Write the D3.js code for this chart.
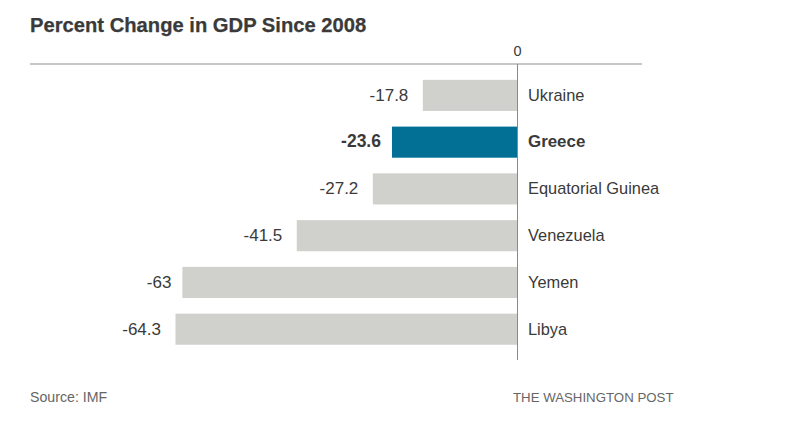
<!DOCTYPE html>
<html>
<head>
<meta charset="utf-8">
<script src="https://d3js.org/d3.v7.min.js"></script>
<style>
    body { margin: 0; background: #fff; }
    text { font-family: 'Liberation Sans', sans-serif; fill: #3a3a3a; }
</style>
</head>
<body>
<svg width="801" height="430"></svg>
<script>
    const countries = ["Ukraine", "Greece", "Equatorial Guinea", "Venezuela", "Yemen", "Libya"];
    const values = [-17.8, -23.6, -27.2, -41.5, -63, -64.3];
    const highlighted = ["Greece"];
    const xTicks = [0];

    const svg = d3.select("svg");

    // zero sits at 517.5, Libya's bar starts at 175.5
    const x = d3.scaleLinear().domain([-64.3, 0]).range([175.5, 517.5]);
    const y = d3.scaleBand().domain(countries).range([71.9, 352.7]).paddingInner(0.335).paddingOuter(0.17);

    const valueOf = d => values[countries.indexOf(d)];
    const isBold = d => highlighted.includes(d);

    // title
    svg.append("text")
        .attr("x", 30).attr("y", 32)
        .attr("font-size", 20.2).attr("font-weight", "bold")
        .style("stroke", "#3a3a3a").style("stroke-width", 0.25)
        .text("Percent Change in GDP Since 2008");

    // bars
    svg.selectAll(".bar")
        .data(countries)
        .join("rect")
        .attr("class", "bar")
        .attr("x", d => x(valueOf(d)))
        .attr("y", d => y(d))
        .attr("width", d => x(0) - x(valueOf(d)))
        .attr("height", y.bandwidth())
        .attr("fill", d => isBold(d) ? "#026f95" : "#d0d0cc");

    // top rule and zero line
    svg.append("line")
        .attr("x1", 30).attr("x2", 642).attr("y1", 64).attr("y2", 64)
        .attr("stroke", "#b5b5b5").attr("stroke-width", 1.5);
    svg.append("line")
        .attr("x1", x(0)).attr("x2", x(0)).attr("y1", 64).attr("y2", 360)
        .attr("stroke", "#8a8a8a").attr("stroke-width", 1);

    svg.selectAll(".tick-label")
        .data(xTicks)
        .join("text")
        .attr("class", "tick-label")
        .attr("x", d => x(d)).attr("y", 56)
        .attr("text-anchor", "middle").attr("font-size", 14.5)
        .text(d => d);

    // value labels: plain decimals sit further off the bar than the others
    svg.selectAll(".value")
        .data(countries)
        .join("text")
        .attr("class", "value")
        .attr("x", d => x(valueOf(d)) - (isBold(d) || Number.isInteger(valueOf(d)) ? 11 : 14.5))
        .attr("y", d => y(d) + y.bandwidth() / 2 + 5.3)
        .attr("text-anchor", "end")
        .attr("font-size", d => isBold(d) ? 17.5 : 17)
        .attr("font-weight", d => isBold(d) ? "bold" : "normal")
        .text(d => valueOf(d));

    // country labels
    svg.selectAll(".country")
        .data(countries)
        .join("text")
        .attr("class", "country")
        .attr("x", 528)
        .attr("y", d => y(d) + y.bandwidth() / 2 + 5.3)
        .attr("font-size", d => isBold(d) ? 16.9 : 16.4)
        .attr("font-weight", d => isBold(d) ? "bold" : "normal")
        .text(d => d);

    // footer
    svg.append("text")
        .attr("x", 30).attr("y", 402)
        .attr("font-size", 14.2).style("fill", "#666")
        .text("Source: IMF");
    svg.append("text")
        .attr("x", 513).attr("y", 402)
        .attr("font-size", 13.25).style("fill", "#666")
        .text("THE WASHINGTON POST");
</script>
</body>
</html>
